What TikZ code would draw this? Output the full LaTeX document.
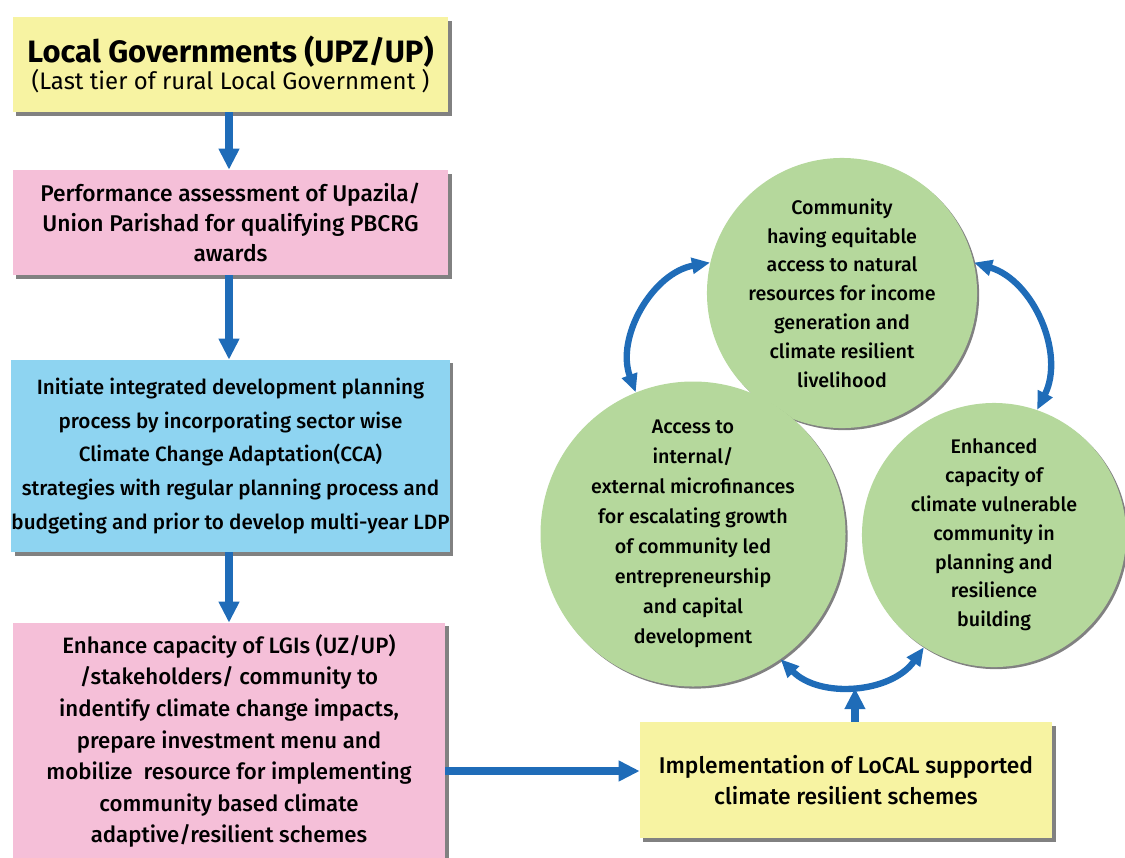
\documentclass[tikz,border=0pt]{standalone}
\usepackage{fontspec}
\setmainfont{Fira Sans}[UprightFont={Fira Sans Medium}, BoldFont={Fira Sans Bold}]
\newfontfamily\plainfont{Fira Sans}
\usetikzlibrary{arrows.meta, shadows}

\definecolor{boxyellow}{HTML}{F7F3A2}
\definecolor{boxpink}{HTML}{F5BFD8}
\definecolor{boxblue}{HTML}{8ED4F1}
\definecolor{goalgreen}{HTML}{B5D89C}
\definecolor{arrowblue}{HTML}{1F6CB8}

\begin{document}
\begin{tikzpicture}[x=0.025cm, y=-0.025cm,
    box/.style={rectangle, align=center, inner sep=0pt, text=black,
      font=\fontsize{15.8}{22.5}\selectfont,
      drop shadow={shadow xshift=2.5pt, shadow yshift=-2.5pt, fill=black!70, opacity=0.7}},
    goal/.style={circle, fill=goalgreen, align=center, inner sep=0pt, text=black,
      font=\fontsize{14}{20.5}\selectfont,
      drop shadow={shadow xshift=1.5pt, shadow yshift=-1.5pt, fill=black!70, opacity=0.7}},
    flow/.style={line width=5.5pt, draw=arrowblue, -{Triangle[width=14pt, length=15pt]}},
    loopflow/.style={line width=4.5pt, draw=arrowblue,
      {Triangle[width=11pt, length=13pt]}-{Triangle[width=11pt, length=13pt]}}]

  \useasboundingbox (0, 0) rectangle (1125, 857);

  % left column
  \node[box, fill=boxyellow, minimum width=10.875cm, minimum height=2.375cm] (lg) at (230.5, 64.5)
    {{\fontsize{22}{28}\selectfont\bfseries Local Governments (UPZ/UP)}\\[-3pt]
     {\plainfont\fontsize{17}{22}\selectfont (Last tier of rural Local Government )}};
  \node[box, fill=boxpink, minimum width=10.875cm, minimum height=2.625cm,
    font=\fontsize{16.2}{21.3}\selectfont] (perf) at (230.5, 222.5)
    {Performance assessment of Upazila/\\ Union Parishad for qualifying PBCRG\\ awards};
  \node[box, fill=boxblue, minimum width=10.875cm, minimum height=4.8cm,
    font=\fontsize{14.7}{24}\selectfont] (plan) at (230.5, 456)
    {Initiate integrated development planning\\ process by incorporating sector wise\\
     Climate Change Adaptation(CCA)\\ strategies with regular planning process and\\
     budgeting and prior to develop multi-year LDP};
  \node[box, fill=boxpink, minimum width=10.8cm, minimum height=5.9cm] (enh) at (229, 741)
    {Enhance capacity of LGIs (UZ/UP)\\ /stakeholders/ community to\\
     indentify climate change impacts,\\ prepare investment menu and\\
     mobilize\ \ resource for implementing\\ community based climate\\
     adaptive/resilient schemes};

  % right part
  \node[box, fill=boxyellow, minimum width=10.3cm, minimum height=2.9cm,
    font=\fontsize{16.2}{22.5}\selectfont] (impl) at (846, 780)
    {Implementation of LoCAL supported\\ climate resilient schemes};
  \node[goal, minimum size=6.75cm] (comm) at (842, 293)
    {Community\\ having equitable\\ access to natural\\ resources for income\\
     generation and\\ climate resilient\\ livelihood};
  \node[goal, minimum size=6.55cm, font=\fontsize{14}{21.3}\selectfont] (fin) at (693, 534)
    {Access to\\ internal/\\ external microfinances\\ for escalating growth\\
     of community led\\ entrepreneurship\\ and capital\\ development};
  \node[goal, minimum size=6.6cm] (cap) at (994, 535)
    {Enhanced\\ capacity of\\ climate vulnerable\\ community in\\
     planning and\\ resilience\\ building};

  \draw[flow] (lg.south -| 229, 0) -- (perf.north -| 229, 0);
  \draw[flow] (perf.south -| 229, 0) -- (plan.north -| 229, 0);
  \draw[flow] (plan.south -| 229, 0) -- (enh.north -| 229, 0);

  \coordinate (link) at (540, 771);
  \draw[flow] (enh.east |- link) -- (impl.west |- link);

  \draw[loopflow] (comm.167) to[bend right=50] (fin.112);
  \draw[loopflow] (comm.13) to[bend left=50] (cap.71);
  \draw[loopflow] (fin.-55) to[bend right=50] coordinate[pos=0.5] (arcmid) (cap.238);
  \draw[flow, shorten >=2pt] (impl.north -| arcmid) -- (arcmid);
\end{tikzpicture}
\end{document}
